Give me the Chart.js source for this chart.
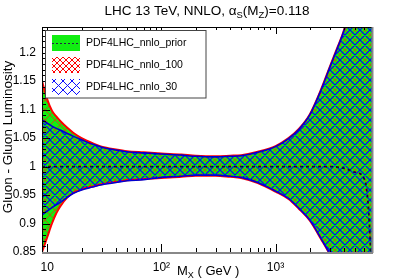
<!DOCTYPE html>
<html>
<head>
<meta charset="utf-8">
<script src="https://cdn.jsdelivr.net/npm/chart.js@4.4.1/dist/chart.umd.min.js"></script>
<style>
  html, body { margin: 0; padding: 0; background: #fff; }
</style>
</head>
<body>
<canvas id="myChart" width="413" height="280"></canvas>
<script>
// invariant mass grid (GeV)
const massGrid = [9, 10, 11, 12, 13, 15, 17, 20, 25, 30, 40, 50, 70, 100, 150, 200, 300, 400, 500, 700,
                  1000, 1300, 1600, 2000, 2500, 3000, 3500, 4000, 5000, 6000, 6500, 7000];

// PDF4LHC_nnlo_prior band (ratio to central)
const priorUp = [1.150, 1.118, 1.098, 1.088, 1.080, 1.068, 1.059, 1.050, 1.041, 1.035, 1.030, 1.027, 1.025, 1.023, 1.021, 1.019, 1.018, 1.019, 1.020, 1.026,
                 1.036, 1.050, 1.066, 1.092, 1.135, 1.176, 1.210, 1.241, 1.320, 1.400, 1.440, 1.480];
const priorLow = [0.850, 0.876, 0.900, 0.918, 0.930, 0.946, 0.954, 0.960, 0.965, 0.969, 0.973, 0.976, 0.978, 0.980, 0.982, 0.984, 0.984, 0.982, 0.980, 0.971,
                  0.956, 0.943, 0.926, 0.905, 0.873, 0.845, 0.815, 0.785, 0.720, 0.650, 0.615, 0.580];
const priorCentral = [1.000, 1.000, 1.000, 1.000, 1.000, 1.000, 1.000, 1.000, 1.000, 1.000, 1.000, 1.000, 1.000, 1.000, 1.000, 1.000, 1.000, 1.000, 1.000, 1.000,
                      1.000, 1.000, 1.000, 1.000, 1.000, 1.000, 0.999, 0.997, 0.990, 0.978, 0.930, 0.800];

// PDF4LHC_nnlo_100 band
const nnlo100Up = [1.150, 1.118, 1.098, 1.088, 1.080, 1.068, 1.059, 1.050, 1.041, 1.035, 1.030, 1.027, 1.025, 1.023, 1.021, 1.019, 1.018, 1.019, 1.020, 1.026,
                   1.036, 1.050, 1.066, 1.092, 1.135, 1.176, 1.210, 1.241, 1.320, 1.400, 1.440, 1.480];
const nnlo100Low = [0.850, 0.876, 0.900, 0.918, 0.930, 0.946, 0.954, 0.960, 0.965, 0.969, 0.973, 0.976, 0.978, 0.980, 0.982, 0.984, 0.984, 0.982, 0.980, 0.971,
                    0.956, 0.943, 0.926, 0.905, 0.873, 0.845, 0.815, 0.785, 0.720, 0.650, 0.615, 0.580];

// PDF4LHC_nnlo_30 band
const nnlo30Up = [1.082, 1.076, 1.071, 1.067, 1.064, 1.058, 1.053, 1.047, 1.039, 1.034, 1.029, 1.026, 1.024, 1.022, 1.020, 1.018, 1.017, 1.018, 1.019, 1.025,
                  1.035, 1.049, 1.065, 1.091, 1.134, 1.175, 1.209, 1.240, 1.318, 1.398, 1.438, 1.478];
const nnlo30Low = [0.915, 0.922, 0.928, 0.933, 0.937, 0.946, 0.953, 0.959, 0.964, 0.968, 0.972, 0.975, 0.977, 0.981, 0.983, 0.985, 0.985, 0.983, 0.981, 0.972,
                   0.957, 0.944, 0.927, 0.906, 0.874, 0.846, 0.816, 0.786, 0.722, 0.652, 0.617, 0.582];

// axis ticks
const xTickValues = [10, 100, 1000];
const xTickLabels = ['10', '10\u00B2', '10\u00B3'];
const yTickValues = [0.85, 0.9, 0.95, 1.0, 1.05, 1.1, 1.15, 1.2];
const yTickLabels = ['0.85', '0.9', '0.95', '1', '1.05', '1.1', '1.15', '1.2'];

const legendNames = ['PDF4LHC_nnlo_prior', 'PDF4LHC_nnlo_100', 'PDF4LHC_nnlo_30'];

const GREEN = '#11ee11';
const FONT = "'Liberation Sans', Arial, sans-serif";
Chart.defaults.font.family = FONT;

// 45 degree cross hatch, shift moves the crossings sideways
function hatch(color, size, width, shift) {
  let c = document.createElement('canvas');
  c.width = size; c.height = size;
  let g = c.getContext('2d');
  g.strokeStyle = color;
  g.lineWidth = width;
  g.beginPath();
  for (let k = -2; k <= 2; k++) {
    let x0 = k * size + shift;
    g.moveTo(x0, 0); g.lineTo(x0 + size, size);
    g.moveTo(x0 + size, 0); g.lineTo(x0, size);
  }
  g.stroke();
  return g.createPattern(c, 'repeat');
}
const redHatch = hatch('rgba(255,20,20,0.85)', 10, 0.8, 5);
const blueHatch = hatch('#0000ff', 10, 1.2, 0);
const redHatchKey = hatch('#ff0000', 6, 1, 0);
const blueHatchKey = hatch('#1010ff', 9, 1, 0);

function pts(arr) {
  return massGrid.map((m, i) => ({ x: m, y: arr[i] }));
}

const lineBase = { pointRadius: 0, tension: 0.4, cubicInterpolationMode: 'monotone' };

// draws text pieces with subscripts, returns width
function richText(ctx, parts, x, y, size, measureOnly) {
  let w = 0;
  parts.forEach(p => {
    let s = p.sub ? size * 0.7 : size;
    ctx.font = s + 'px ' + FONT;
    if (!measureOnly) ctx.fillText(p.t, x + w, y + (p.sub ? size * 0.25 : 0));
    w += ctx.measureText(p.t).width;
  });
  return w;
}

const decorations = {
  id: 'decorations',
  afterDatasetsDraw(chart) {
    const ctx = chart.ctx, a = chart.chartArea;
    const xs = chart.scales.x, ys = chart.scales.y;
    ctx.save();
    ctx.strokeStyle = '#000';
    ctx.lineWidth = 1;
    ctx.beginPath();
    // x ticks (bottom and top, pointing inward)
    for (let d = 1; d <= 1000; d *= 10) {
      for (let k = 1; k <= 9; k++) {
        let v = d * k;
        if (v < 9 || v > 7000) continue;
        let px = Math.round(xs.getPixelForValue(v)) + 0.5;
        let len = k === 1 ? 8 : 4;
        ctx.moveTo(px, a.bottom); ctx.lineTo(px, a.bottom - len);
        ctx.moveTo(px, a.top); ctx.lineTo(px, a.top + len - 1);
      }
    }
    // y ticks on the left
    for (let i = 0; i <= 39; i++) {
      let v = 0.85 + i * 0.01;
      let py = Math.round(ys.getPixelForValue(v)) + 0.5;
      let len = i % 5 === 0 ? 8 : 4;
      ctx.moveTo(a.left, py); ctx.lineTo(a.left + len, py);
    }
    ctx.stroke();
    // frame
    ctx.beginPath();
    ctx.moveTo(a.left + 0.5, a.bottom); ctx.lineTo(a.left + 0.5, a.top + 0.5); ctx.lineTo(a.right, a.top + 0.5);
    ctx.stroke();
    ctx.strokeStyle = '#888';
    ctx.lineWidth = 2;
    ctx.beginPath();
    ctx.moveTo(a.left, a.bottom + 1); ctx.lineTo(a.right + 1, a.bottom + 1);
    ctx.moveTo(a.right + 0.5, a.bottom + 1); ctx.lineTo(a.right + 0.5, a.top);
    ctx.stroke();
    ctx.restore();
  },
  afterDraw(chart) {
    const ctx = chart.ctx;
    ctx.save();
    ctx.fillStyle = '#000';
    ctx.textBaseline = 'alphabetic';
    ctx.textAlign = 'left';
    // title
    const title = [{ t: 'LHC 13 TeV, NNLO, \u03B1' }, { t: 'S', sub: true }, { t: '(M' }, { t: 'Z', sub: true }, { t: ')=0.118' }];
    let tw = richText(ctx, title, 0, 0, 13.5, true);
    richText(ctx, title, 207 - tw / 2, 14.5, 13.5, false);
    // x title
    richText(ctx, [{ t: 'M' }, { t: 'X', sub: true }, { t: ' ( GeV )' }], 177, 275, 13, false);
    // y title
    ctx.translate(11.5, 137);
    ctx.rotate(-Math.PI / 2);
    ctx.textAlign = 'center';
    ctx.font = '13.5px ' + FONT;
    ctx.fillText('Gluon - Gluon Luminosity', 0, 0);
    ctx.restore();

    // legend
    ctx.save();
    ctx.fillStyle = '#fff';
    ctx.fillRect(45.5, 30.5, 160.5, 67.5);
    ctx.strokeStyle = '#444';
    ctx.lineWidth = 1;
    ctx.strokeRect(45.5, 30.5, 160.5, 67.5);
    const rows = [43, 65, 87];
    const fills = [GREEN, redHatchKey, blueHatchKey];
    rows.forEach((cy, i) => {
      ctx.fillStyle = fills[i];
      ctx.fillRect(52, cy - 8, 28, 16);
      if (i === 0) {
        ctx.strokeStyle = '#224';
        ctx.setLineDash([2, 2]);
        ctx.lineWidth = 1;
        ctx.beginPath();
        ctx.moveTo(52, cy + 0.5); ctx.lineTo(80, cy + 0.5);
        ctx.stroke();
        ctx.setLineDash([]);
      }
      ctx.fillStyle = '#000';
      ctx.font = '10.5px ' + FONT;
      ctx.textBaseline = 'middle';
      ctx.fillText(legendNames[i], 86, cy + 0.5);
    });
    ctx.restore();
  }
};

const ctx = document.getElementById('myChart');
const chart = new Chart(ctx, {
  type: 'line',
  data: {
    datasets: [
      Object.assign({ data: pts(priorCentral), borderColor: '#111133', borderWidth: 1.8, borderDash: [3, 3], fill: false }, lineBase),
      Object.assign({ data: pts(nnlo30Up), borderColor: '#0000cc', borderWidth: 1.6, backgroundColor: blueHatch, fill: '+1' }, lineBase),
      Object.assign({ data: pts(nnlo30Low), borderColor: '#0000cc', borderWidth: 1.6, fill: false }, lineBase),
      Object.assign({ data: pts(nnlo100Up), borderColor: '#ff0000', borderWidth: 2, backgroundColor: redHatch, fill: '+1' }, lineBase),
      Object.assign({ data: pts(nnlo100Low), borderColor: '#ff0000', borderWidth: 2, fill: false }, lineBase),
      Object.assign({ data: pts(priorUp), borderWidth: 0, borderColor: GREEN, backgroundColor: GREEN, fill: '+1' }, lineBase),
      Object.assign({ data: pts(priorLow), borderWidth: 0, borderColor: GREEN, fill: false }, lineBase)
    ]
  },
  options: {
    responsive: false,
    animation: false,
    devicePixelRatio: 1,
    layout: { padding: { left: 0, right: 41, top: 27, bottom: 0 } },
    plugins: { legend: { display: false }, tooltip: { enabled: false }, title: { display: false } },
    scales: {
      x: {
        type: 'logarithmic',
        min: 9, max: 7000,
        grid: { display: false, drawTicks: false },
        border: { display: false },
        ticks: {
          color: '#000', font: { size: 12 }, padding: 8, autoSkip: false, maxRotation: 0,
          callback: (v) => { let i = xTickValues.indexOf(v); return i >= 0 ? xTickLabels[i] : ''; }
        },
        afterBuildTicks: (s) => { s.ticks = xTickValues.map(v => ({ value: v })); },
        afterFit: (s) => { s.height = 28; }
      },
      y: {
        min: 0.85, max: 1.245,
        grid: { display: false, drawTicks: false },
        border: { display: false },
        ticks: {
          color: '#000', font: { size: 12 }, padding: 6, autoSkip: false,
          callback: (v) => { let i = yTickValues.findIndex(t => Math.abs(t - v) < 1e-6); return i >= 0 ? yTickLabels[i] : ''; }
        },
        afterBuildTicks: (s) => { s.ticks = yTickValues.map(v => ({ value: v })); },
        afterFit: (s) => { s.width = 42; }
      }
    }
  },
  plugins: [decorations]
});
</script>
</body>
</html>
